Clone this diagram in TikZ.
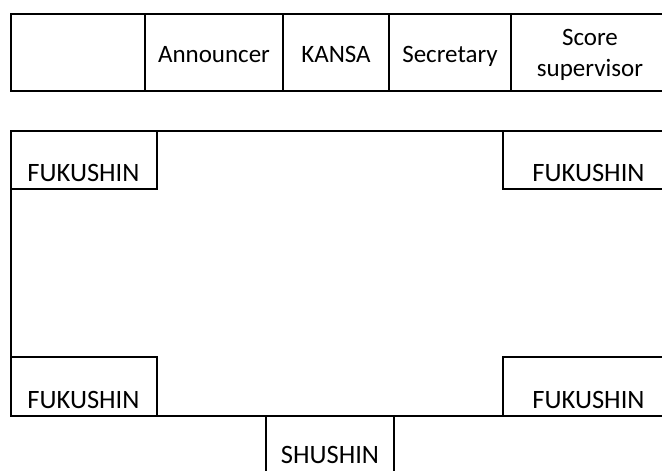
\documentclass[tikz,border=0pt]{standalone}
\usepackage{fontspec}
\setmainfont{Carlito}
\begin{document}
\begin{tikzpicture}[x=1pt,y=-1pt,line width=1.9pt,line cap=rect,
  lab/.style={font=\fontsize{26.5}{28}\selectfont,inner sep=0pt,anchor=base},
  toplab/.style={font=\fontsize{25}{31}\selectfont,inner sep=0pt,anchor=base},
  twolab/.style={font=\fontsize{25}{31}\selectfont,inner sep=0pt,anchor=center,align=center},
  thin/.style={line width=1.4pt}]
\useasboundingbox (0,0) rectangle (662,471);
% top table
\draw (662,14) -- (11,14) -- (11,91) -- (662,91);
\draw (145,14) -- (145,91);
\draw (283,14) -- (283,91);
\draw (389,14) -- (389,91);
\draw (511,14) -- (511,91);
\node[toplab] (ann) at (214,62) {Announcer};
\node[toplab] (kansa) at (336,62) {KANSA};
\node[toplab] (sec) at (450,62) {Secretary};
\node[twolab] (score) at (590,55) {Score\\supervisor};
% main area
\draw (662,131) -- (11,131) -- (11,416) -- (662,416);
% corner boxes
\draw (157,131) -- (157,189) -- (11,189);
\draw (503,131) -- (503,189) -- (662,189);
\draw (11,357) -- (157,357) -- (157,416);
\draw (662,357) -- (503,357) -- (503,416);
\node[lab] (f1) at (83.5,181) {FUKUSHIN};
\node[lab] (f2) at (588.5,181) {FUKUSHIN};
\node[lab] (f3) at (83.5,408) {FUKUSHIN};
\node[lab] (f4) at (588.5,408) {FUKUSHIN};
% shushin
\draw[thin] (266,416) -- (266,475);
\draw[thin] (394,416) -- (394,475);
\node[lab] (sh) at (330,463) {SHUSHIN};
\end{tikzpicture}
\end{document}
